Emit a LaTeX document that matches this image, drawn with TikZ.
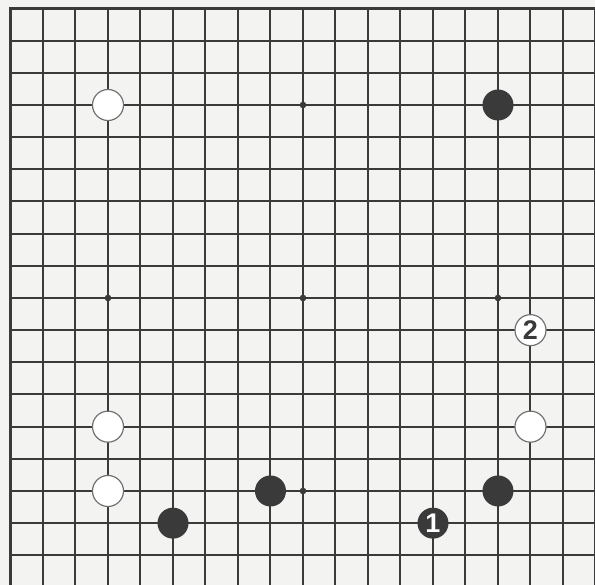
\documentclass[tikz,border=0pt]{standalone}
\usepackage{fontspec}
\setsansfont{Liberation Sans}
\definecolor{tinta}{RGB}{58,58,58}
\definecolor{papel}{RGB}{243,243,241}
\definecolor{contorno}{RGB}{112,112,112}
\tikzset{
  linea/.style={draw=tinta, line width=0.06cm},
  borde/.style={draw=tinta, line width=0.09cm},
  piedra/.style={circle, inner sep=0pt, minimum size=0.93cm,
    font=\fontsize{23}{23}\selectfont\sffamily\bfseries},
  negra/.style={piedra, fill=tinta, text=white},
  blanca/.style={piedra, fill=white, draw=contorno, line width=1pt, text=tinta}
}
\begin{document}
\begin{tikzpicture}[x=0.975cm, y=-0.965cm]

\useasboundingbox (-0.323,-0.264) rectangle (17.985,17.92);
\fill[papel] (-0.323,-0.264) rectangle (17.985,17.92);
\clip (-0.323,-0.264) rectangle (17.985,17.92);

% Tablero
\foreach \i in {0, 1, ..., 18} {
	\draw[linea] (\i,0) -- (\i,18);
	\draw[linea] (0,\i) -- (18,\i);
}
\draw[borde] (0,0) rectangle (18,18);

% Hoshi
\foreach \x in {3, 9, 15}
	\foreach \y in {3, 9, 15}
		\fill[tinta] (\x,\y) circle (0.1cm);

% Piedras
\node[blanca] (B1) at (3,3) {};
\node[negra] (N1) at (15,3) {};
\node[blanca] (B2) at (3,13) {};
\node[blanca] (B3) at (3,15) {};
\node[negra] (N2) at (5,16) {};
\node[negra] (N3) at (8,15) {};
\node[negra] (N4) at (15,15) {};
\node[blanca] (B4) at (16,13) {};

% Jugadas
\node[negra] (J1) at (13,16) {1};
\node[blanca] (J2) at (16,10) {2};
\end{tikzpicture}
\end{document}
